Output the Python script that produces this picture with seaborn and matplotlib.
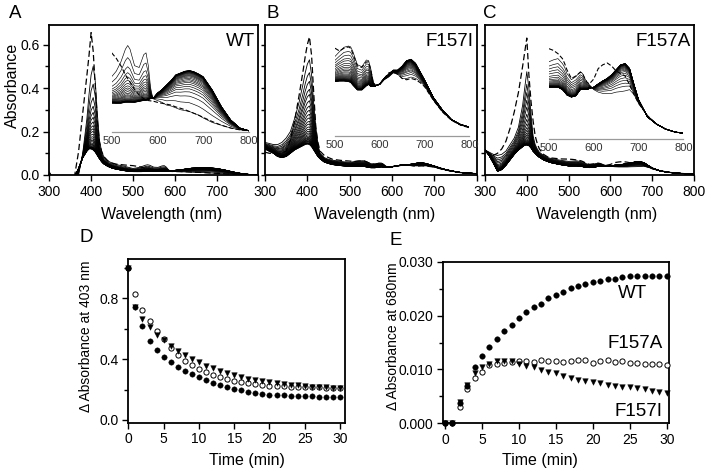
#!/usr/bin/env python3
"""Spectral changes (A-C) and kinetics at 403 / 680 nm (D, E)."""
import numpy as np
import pandas as pd
import matplotlib
matplotlib.use('Agg')
import matplotlib.pyplot as plt
import seaborn as sns
from matplotlib.ticker import MultipleLocator

W, H = 714, 474

# wavelength grid (nm) used for every spectrum
WL = [300, 310, 320, 330, 340, 350, 360, 370, 380, 390, 395, 400, 405, 410, 415, 420, 425, 430, 440, 450, 460, 480,
      500, 510, 520, 530, 535, 540, 550, 560, 570, 575, 580, 585, 590,
      600, 610, 620, 630, 640, 650, 660, 670, 680, 690, 700,
      720, 740, 760, 780, 800]

# WT: dashed (t=0), first solid (t=1), last solid (t=30)
WT_T0 = [-0.01, -0.03, -0.03, -0.03, -0.03, -0.03, -0.01, 0.107, 0.285, 0.46, 0.55, 0.655, 0.57, 0.41, 0.25, 0.15, 0.11, 0.085, 0.065, 0.055, 0.05, 0.046,
         0.043, 0.040, 0.036, 0.031, 0.029, 0.027, 0.023, 0.020, 0.018, 0.0175, 0.017, 0.0168, 0.0167,
         0.016, 0.0155, 0.015, 0.0145, 0.0135, 0.0128, 0.012, 0.011, 0.010, 0.009, 0.0078,
         0.0055, 0.0035, 0.002, 0.001, 0.0005]
WT_T1 = [0.015, -0.02, -0.02, -0.02, -0.02, -0.02, -0.02, 0.0, 0.10, 0.26, 0.37, 0.46, 0.50, 0.43, 0.28, 0.16, 0.11, 0.085, 0.065, 0.055, 0.048, 0.040,
         0.030, 0.033, 0.038, 0.045, 0.047, 0.045, 0.036, 0.035, 0.042, 0.043, 0.036, 0.024, 0.018,
         0.017, 0.016, 0.0145, 0.014, 0.013, 0.012, 0.0115, 0.011, 0.010, 0.009, 0.0075,
         0.005, 0.0035, 0.002, 0.001, 0.0005]
WT_T30 = [0.0, -0.02, -0.02, -0.02, -0.02, -0.02, -0.01, 0.03, 0.08, 0.11, 0.12, 0.12, 0.115, 0.105, 0.09, 0.075, 0.062, 0.052, 0.04, 0.032, 0.027, 0.02,
          0.0156, 0.0155, 0.0155, 0.016, 0.016, 0.016, 0.016, 0.0165, 0.017, 0.017, 0.0175, 0.018, 0.018,
          0.021, 0.023, 0.0255, 0.028, 0.031, 0.032, 0.033, 0.0334, 0.0327, 0.0315, 0.030,
          0.0227, 0.0136, 0.0064, 0.002, 0.0005]

# F157I
I_T0 = [0.105, 0.10, 0.10, 0.10, 0.10, 0.11, 0.16, 0.25, 0.36, 0.48, 0.545, 0.60, 0.635, 0.55, 0.38, 0.22, 0.15, 0.11, 0.09, 0.08, 0.072, 0.067,
        0.064, 0.062, 0.064, 0.065, 0.064, 0.060, 0.051, 0.050, 0.054, 0.054, 0.048, 0.040, 0.037,
        0.038, 0.042, 0.046, 0.047, 0.045, 0.042, 0.041, 0.042, 0.041, 0.039, 0.036,
        0.026, 0.0175, 0.0115, 0.008, 0.006]
I_T1 = [0.15, 0.145, 0.14, 0.14, 0.15, 0.17, 0.20, 0.26, 0.33, 0.42, 0.47, 0.51, 0.53, 0.46, 0.33, 0.22, 0.14, 0.10, 0.08, 0.072, 0.068, 0.062,
        0.058, 0.0615, 0.0647, 0.0656, 0.065, 0.0615, 0.052, 0.0505, 0.0554, 0.055, 0.049, 0.040, 0.0365,
        0.0375, 0.041, 0.043, 0.046, 0.045, 0.042, 0.042, 0.043, 0.042, 0.040, 0.0365,
        0.026, 0.0177, 0.0117, 0.008, 0.0063]
I_T30 = [0.12, 0.11, 0.10, 0.085, 0.08, 0.085, 0.10, 0.115, 0.125, 0.135, 0.14, 0.142, 0.14, 0.13, 0.115, 0.10, 0.085, 0.075, 0.06, 0.053, 0.048, 0.043,
         0.0396, 0.040, 0.040, 0.0396, 0.039, 0.037, 0.0335, 0.0335, 0.0365, 0.0375, 0.036, 0.036, 0.0365,
         0.038, 0.042, 0.045, 0.048, 0.048, 0.051, 0.055, 0.056, 0.053, 0.047, 0.041,
         0.028, 0.019, 0.012, 0.0085, 0.0065]

# F157A
A_T0 = [0.115, 0.10, 0.09, 0.10, 0.12, 0.155, 0.215, 0.29, 0.38, 0.50, 0.565, 0.63, 0.46, 0.34, 0.25, 0.18, 0.145, 0.12, 0.095, 0.083, 0.078, 0.074,
        0.073, 0.0716, 0.069, 0.065, 0.061, 0.056, 0.049, 0.051, 0.054, 0.053, 0.049, 0.046, 0.0446,
        0.0486, 0.057, 0.060, 0.0615, 0.059, 0.055, 0.053, 0.051, 0.044, 0.036, 0.029,
        0.019, 0.0123, 0.0083, 0.006, 0.0048]
A_T1 = [0.115, 0.105, 0.095, 0.09, 0.095, 0.11, 0.14, 0.17, 0.22, 0.32, 0.40, 0.475, 0.40, 0.28, 0.18, 0.14, 0.12, 0.105, 0.09, 0.08, 0.075, 0.068,
        0.0625, 0.064, 0.065, 0.061, 0.058, 0.053, 0.048, 0.0505, 0.0545, 0.053, 0.049, 0.046, 0.044,
        0.040, 0.038, 0.037, 0.037, 0.037, 0.038, 0.0384, 0.039, 0.040, 0.036, 0.029,
        0.019, 0.0123, 0.0083, 0.006, 0.0048]
A_T30 = [0.115, 0.09, 0.055, 0.017, 0.025, 0.045, 0.07, 0.095, 0.115, 0.13, 0.137, 0.138, 0.135, 0.125, 0.11, 0.10, 0.09, 0.082, 0.07, 0.062, 0.056, 0.048,
         0.042, 0.042, 0.042, 0.040, 0.038, 0.0357, 0.034, 0.035, 0.040, 0.040, 0.040, 0.040, 0.041,
         0.042, 0.0446, 0.047, 0.049, 0.052, 0.056, 0.060, 0.061, 0.057, 0.044, 0.032,
         0.018, 0.0123, 0.0083, 0.006, 0.0048]

# kinetics, t = 0..30 min
TIME = list(range(31))
D_WT = [1.0, 0.745, 0.618, 0.522, 0.46, 0.416, 0.381, 0.349, 0.322, 0.300, 0.281, 0.261, 0.243, 0.228, 0.217, 0.206,
        0.195, 0.186, 0.180, 0.173, 0.167, 0.164, 0.162, 0.160, 0.158, 0.156, 0.155, 0.153, 0.151, 0.150, 0.148]
D_F157A = [1.0, 0.826, 0.721, 0.651, 0.587, 0.53, 0.471, 0.427, 0.390, 0.359, 0.335, 0.313, 0.296, 0.281, 0.267, 0.256,
           0.248, 0.241, 0.235, 0.230, 0.226, 0.223, 0.221, 0.219, 0.217, 0.216, 0.215, 0.214, 0.213, 0.213, 0.212]
D_F157I = [1.0, 0.745, 0.664, 0.609, 0.559, 0.526, 0.487, 0.454, 0.427, 0.401, 0.379, 0.357, 0.340, 0.322, 0.307, 0.294,
           0.283, 0.272, 0.263, 0.254, 0.248, 0.241, 0.237, 0.232, 0.228, 0.224, 0.219, 0.217, 0.215, 0.213, 0.210]
E_WT = [0.0, 0.0, 0.0038, 0.0070, 0.0104, 0.0125, 0.0141, 0.0156, 0.0172, 0.0183, 0.0195, 0.0206, 0.0215, 0.0222, 0.0232, 0.0238,
        0.0244, 0.0251, 0.0255, 0.0258, 0.0263, 0.0265, 0.0267, 0.0268, 0.0271, 0.0273, 0.0274, 0.0274, 0.0274, 0.0274, 0.0274]
E_F157A = [0.0, 0.0, 0.0031, 0.0064, 0.0084, 0.0096, 0.0109, 0.0111, 0.0112, 0.0114, 0.0115, 0.0115, 0.0114, 0.0117, 0.0116, 0.0115,
           0.0114, 0.0115, 0.0117, 0.0117, 0.0112, 0.0116, 0.0118, 0.0114, 0.0116, 0.0112, 0.0112, 0.0111, 0.0111, 0.0110, 0.0108]
E_F157I = [0.0, 0.0, 0.0039, 0.0072, 0.0093, 0.0105, 0.0111, 0.0115, 0.0116, 0.0115, 0.0111, 0.0106, 0.0104, 0.0099, 0.0096, 0.0093,
           0.0088, 0.0084, 0.0081, 0.0078, 0.0076, 0.0074, 0.0072, 0.0070, 0.0068, 0.0067, 0.0065, 0.0063, 0.0060, 0.0059, 0.0056]


def px_rect(left, top, right, bottom):
    return [left / W, 1 - bottom / H, (right - left) / W, (bottom - top) / H]


def family(first, last, decay):
    # traces t=1..30: mix of first/last spectra, weighted by the 403 nm decay of that protein
    f = np.array(decay)
    w = (f[1:] - f[-1]) / (f[1] - f[-1])
    parts = []
    for k, wk in enumerate(w, start=1):
        y = np.array(last) + wk * (np.array(first) - np.array(last))
        parts.append(pd.DataFrame({'wl': WL, 'absorb': y, 'time': k}))
    return pd.concat(parts, ignore_index=True)


def style_spines(ax, lw=1.3):
    for s in ax.spines.values():
        s.set_linewidth(lw)
        s.set_color('black')


def spectrum_panel(fig, rect, inset_rect, t0, t1, t30, decay, inset_top, name, xlabels):
    ax = fig.add_axes(rect)
    fam = family(t1, t30, decay)
    sns.lineplot(data=fam, x='wl', y='absorb', units='time', estimator=None, sort=False,
                 color='black', lw=0.6, ax=ax, legend=False)
    sns.lineplot(x=WL, y=t0, color='black', lw=0.9, ls=(0, (5, 2.5)), ax=ax, sort=False)
    ax.set_xlim(300, 800)
    ax.set_ylim(0, 0.69)
    ax.set_xticks(range(300, 801, 100))
    ax.set_xticklabels(xlabels)
    ax.set_xlabel('')
    ax.set_ylabel('')
    ax.tick_params(direction='out', length=4, width=1, labelsize=10, pad=3)
    style_spines(ax)
    ax.text(0.985, 0.89, name, transform=ax.transAxes, ha='right', va='center', fontsize=13.5)

    ins = fig.add_axes(inset_rect)
    ins.patch.set_alpha(0)
    sub = fam[fam['wl'] >= 500]
    sns.lineplot(data=sub, x='wl', y='absorb', units='time', estimator=None, sort=False,
                 color='black', lw=0.45, ax=ins, legend=False)
    wl_in = [w for w in WL if w >= 500]
    sns.lineplot(x=wl_in, y=t0[WL.index(500):], color='black', lw=0.8, ls=(0, (4, 2)), ax=ins, sort=False)
    ins.set_xlim(500, 800)
    ins.set_ylim(0, inset_top)
    ins.set_xticks([500, 600, 700, 800])
    ins.set_yticks([])
    ins.set_xlabel('')
    ins.set_ylabel('')
    for s in ['top', 'right', 'left']:
        ins.spines[s].set_visible(False)
    ins.spines['bottom'].set_color('#9a9a9a')
    ins.spines['bottom'].set_linewidth(0.9)
    ins.tick_params(axis='x', length=0, labelsize=8, labelcolor='#333333', pad=3)
    return ax


def main():
    sns.set_theme(style='ticks')
    plt.rcParams['font.family'] = ['Liberation Sans', 'DejaVu Sans']
    for key in ['text.color', 'axes.labelcolor', 'xtick.color', 'ytick.color', 'axes.edgecolor']:
        plt.rcParams[key] = 'black'

    fig = plt.figure(figsize=(W / 100, H / 100), dpi=100)
    fig.patch.set_facecolor('white')

    lab_full = ['300', '400', '500', '600', '700', '800']
    lab_cut = ['300', '400', '500', '600', '700', '']

    ax_a = spectrum_panel(fig, px_rect(49.3, 25, 258.3, 175), px_rect(111.7, 40, 249, 131.7),
                          WT_T0, WT_T1, WT_T30, D_WT, 0.05, 'WT', lab_cut)
    ax_a.set_yticks([0.0, 0.2, 0.4, 0.6])
    ax_a.set_yticklabels(['0.0', '0.2', '0.4', '0.6'])
    ax_a.yaxis.set_minor_locator(MultipleLocator(0.1))
    ax_a.tick_params(axis='y', which='minor', direction='out', length=3, width=1)

    for rect, irect, t0, t1, t30, dec, top, name, labs in [
            (px_rect(265, 25, 476.7, 175), px_rect(335, 40, 469.3, 136), I_T0, I_T1, I_T30, D_F157I, 0.07, 'F157I', lab_cut),
            (px_rect(485, 25, 694, 175), px_rect(549, 40, 683.3, 139.3), A_T0, A_T1, A_T30, D_F157A, 0.08, 'F157A', lab_full)]:
        ax = spectrum_panel(fig, rect, irect, t0, t1, t30, dec, top, name, labs)
        ax.set_yticks(np.arange(0, 0.7, 0.1))
        ax.set_yticklabels([])
        ax.tick_params(axis='y', length=3)

    # panel D
    ax_d = fig.add_axes(px_rect(128, 259, 345, 422.7))
    sns.scatterplot(x=TIME, y=D_F157A, marker='o', color='white', edgecolor='black', linewidth=0.7,
                    s=14, ax=ax_d, clip_on=False, zorder=3)
    sns.scatterplot(x=TIME, y=D_F157I, marker='v', color='black', edgecolor='black', linewidth=0.3,
                    s=16, ax=ax_d, clip_on=False, zorder=4)
    sns.scatterplot(x=TIME, y=D_WT, marker='o', color='black', edgecolor='black', linewidth=0.3,
                    s=15, ax=ax_d, clip_on=False, zorder=5)
    ax_d.set_xlim(-0.05, 30.7)
    ax_d.set_ylim(-0.018, 1.058)
    ax_d.set_xticks(range(0, 31, 5))
    ax_d.set_yticks([0.0, 0.4, 0.8])
    ax_d.set_yticklabels(['0.0', '0.4', '0.8'])
    ax_d.yaxis.set_minor_locator(MultipleLocator(0.2))
    ax_d.tick_params(direction='out', length=4, width=1, labelsize=10, pad=3)
    ax_d.tick_params(axis='y', which='minor', direction='out', length=3, width=1)
    ax_d.set_xlabel('')
    ax_d.set_ylabel('')
    style_spines(ax_d)

    # panel E
    ax_e = fig.add_axes(px_rect(442.7, 261.7, 669.3, 423.3))
    sns.scatterplot(x=TIME, y=E_F157A, marker='o', color='white', edgecolor='black', linewidth=0.7,
                    s=14, ax=ax_e, clip_on=False, zorder=3)
    sns.scatterplot(x=TIME, y=E_F157I, marker='v', color='black', edgecolor='black', linewidth=0.3,
                    s=16, ax=ax_e, clip_on=False, zorder=4)
    sns.scatterplot(x=TIME, y=E_WT, marker='o', color='black', edgecolor='black', linewidth=0.3,
                    s=16, ax=ax_e, clip_on=False, zorder=5)
    ax_e.set_xlim(-0.31, 30.35)
    ax_e.set_ylim(0, 0.030)
    ax_e.set_xticks(range(0, 31, 5))
    ax_e.set_yticks([0.0, 0.01, 0.02, 0.03])
    ax_e.set_yticklabels(['0.000', '0.010', '0.020', '0.030'])
    ax_e.yaxis.set_minor_locator(MultipleLocator(0.005))
    ax_e.tick_params(direction='out', length=4, width=1, labelsize=10, pad=3)
    ax_e.tick_params(axis='y', which='minor', direction='out', length=3, width=1)
    ax_e.set_xlabel('')
    ax_e.set_ylabel('')
    style_spines(ax_e)

    def ftext(x, y, s, **kw):
        fig.text(x / W, 1 - y / H, s, ha='center', va='center', **kw)

    ftext(15, 13, 'A', fontsize=13.5)
    ftext(273, 13, 'B', fontsize=13.5)
    ftext(490, 13, 'C', fontsize=13.5)
    ftext(86, 238, 'D', fontsize=13.5)
    ftext(396, 240, 'E', fontsize=13.5)

    ftext(12, 85, 'Absorbance', fontsize=11.5, rotation=90)
    ftext(162, 215, 'Wavelength (nm)', fontsize=11.5)
    ftext(375, 215, 'Wavelength (nm)', fontsize=11.5)
    ftext(597, 215, 'Wavelength (nm)', fontsize=11.5)

    ftext(86, 336, '\u0394 Absorbance at 403 nm', fontsize=10, rotation=90)
    ftext(393, 336, '\u0394 Absorbance at 680nm', fontsize=10, rotation=90)
    ftext(247, 460, 'Time (min)', fontsize=11.5)
    ftext(540, 460, 'Time (min)', fontsize=11.5)

    fig.text(647 / W, 1 - 293 / H, 'WT', ha='right', va='center', fontsize=13.5)
    fig.text(663 / W, 1 - 343 / H, 'F157A', ha='right', va='center', fontsize=13.5)
    fig.text(662 / W, 1 - 411 / H, 'F157I', ha='right', va='center', fontsize=13.5)

    fig.savefig('out.png', dpi=100, facecolor='white')
    plt.close(fig)


if __name__ == '__main__':
    main()
